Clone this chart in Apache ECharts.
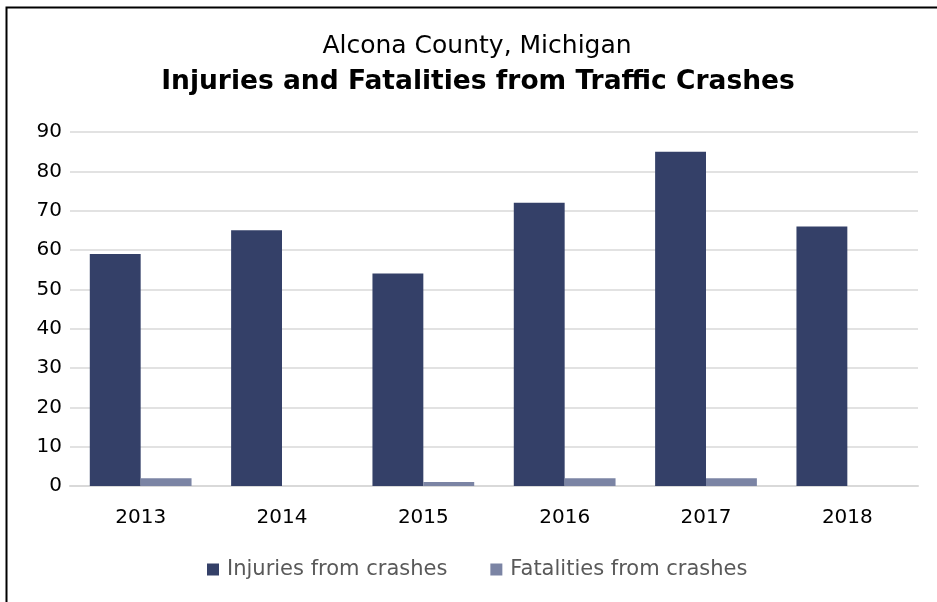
<!DOCTYPE html>
<html><head><meta charset="utf-8">
<script src="https://cdn.jsdelivr.net/npm/echarts@6/dist/echarts.min.js"></script>
<style>html,body{margin:0;padding:0;background:#fff}#c{width:937px;height:602px}</style>
</head><body><div id="c"></div>
<script>
const categories = ['2013','2014','2015','2016','2017','2018'];
const injuries = [59, 65, 54, 72, 85, 66];
const fatalities = [2, 0, 1, 2, 2, 0];
const yTicks = {min: 0, max: 90, interval: 10};
const titleLine1 = 'Alcona County, Michigan';
const titleLine2 = 'Injuries and Fatalities from Traffic Crashes';
const seriesNames = ['Injuries from crashes', 'Fatalities from crashes'];

const font = 'DejaVu Sans';
const chart = echarts.init(document.getElementById('c'), null, {renderer: 'canvas'});
chart.setOption({
  animation: false,
  backgroundColor: '#fff',
  graphic: [
    {type: 'rect', shape: {x: 6.5, y: 7.5, width: 940, height: 620}, style: {fill: 'none', stroke: '#000', lineWidth: 2}, silent: true},
    {type: 'text', x: 477, y: 46, style: {text: titleLine1, textAlign: 'center', textVerticalAlign: 'middle', font: 'normal 25px "DejaVu Sans"', fill: '#000'}},
    {type: 'text', x: 478, y: 82, style: {text: titleLine2, textAlign: 'center', textVerticalAlign: 'middle', font: 'bold 26.5px "DejaVu Sans"', fill: '#000'}}
  ],
  legend: {
    bottom: 17, left: 202, itemWidth: 12, itemHeight: 12, itemGap: 43, icon: 'rect',
    textStyle: {fontFamily: font, fontSize: 21, color: '#595959', padding: [0, 0, 0, 3]},
    data: seriesNames
  },
  grid: {left: 70, right: 19, top: 132, bottom: 116, containLabel: false},
  xAxis: {
    type: 'category', data: categories,
    axisLine: {lineStyle: {color: '#d9d9d9', width: 2}},
    axisTick: {show: false},
    axisLabel: {fontFamily: font, fontSize: 20, color: '#000', margin: 22}
  },
  yAxis: {
    type: 'value', min: yTicks.min, max: yTicks.max, interval: yTicks.interval,
    axisLine: {show: false}, axisTick: {show: false},
    splitLine: {lineStyle: {color: '#d9d9d9', width: 1.5}},
    axisLabel: {fontFamily: font, fontSize: 20, color: '#000', margin: 8}
  },
  series: [
    {name: seriesNames[0], type: 'bar', data: injuries, barGap: '0%', barCategoryGap: '28%',
     itemStyle: {color: '#344068'}},
    {name: seriesNames[1], type: 'bar', data: fatalities,
     itemStyle: {color: '#7b84a4'}}
  ]
});
</script></body></html>
